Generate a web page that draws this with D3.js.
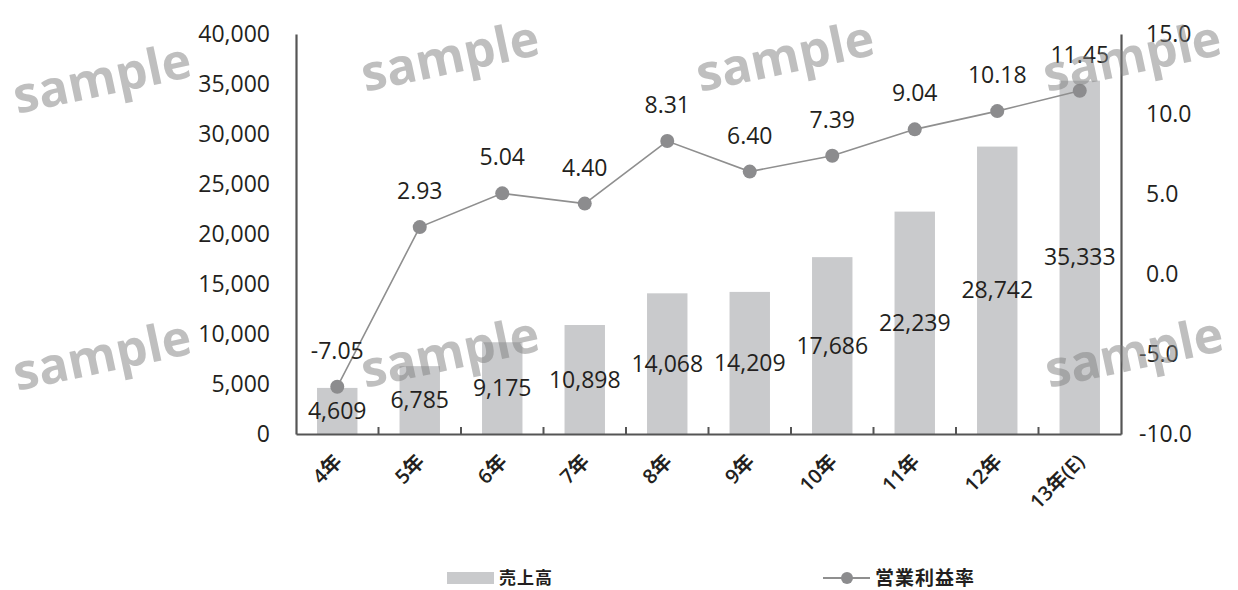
<!DOCTYPE html>
<html><head><meta charset="utf-8">
<script src="https://cdn.jsdelivr.net/npm/d3@7"></script>
<style>
html,body{margin:0;padding:0;background:#fff;}
svg{display:block;}
</style></head>
<body>
<svg id="chart" width="1238" height="590"></svg>
<script>
const categories = ["4年","5年","6年","7年","8年","9年","10年","11年","12年","13年(E)"];
const sales = [4609, 6785, 9175, 10898, 14068, 14209, 17686, 22239, 28742, 35333];
const margins = [-7.05, 2.93, 5.04, 4.40, 8.31, 6.40, 7.39, 9.04, 10.18, 11.45];
const leftTicks = [0, 5000, 10000, 15000, 20000, 25000, 30000, 35000, 40000];
const rightTicks = [-10, -5, 0, 5, 10, 15];
const legendLabels = ["売上高", "営業利益率"];
const watermarkText = "sample";

const W = 1238, H = 590;
const plot = {left: 296, right: 1121, top: 34, bottom: 434};
const font = "'Open Sans','Noto Sans CJK JP',sans-serif";
const svg = d3.select("#chart");

const x = d3.scaleBand().domain(categories).range([plot.left, plot.right]).padding(0);
const yL = d3.scaleLinear().domain([0, 40000]).range([plot.bottom, plot.top]);
const yR = d3.scaleLinear().domain([-10, 15]).range([plot.bottom, plot.top]);
const step = x.step();
const barW = step * 0.49;

// bars
svg.append("g").selectAll("rect").data(sales).join("rect")
  .attr("x", (d,i) => x(categories[i]) + (step - barW)/2)
  .attr("width", barW)
  .attr("y", d => yL(d))
  .attr("height", d => plot.bottom - yL(d))
  .attr("fill", "#c9cacc");

// left axis
const gL = svg.append("g").attr("transform", `translate(${plot.left},0)`)
  .call(d3.axisLeft(yL).tickValues(leftTicks).tickSize(0).tickPadding(26).tickFormat(d3.format(",")));
gL.select(".domain").attr("stroke", "#555").attr("stroke-width", 2.2);
gL.selectAll("text").attr("font-family", font).attr("font-size", 23).attr("fill", "#231f20");

// right axis
const gR = svg.append("g").attr("transform", `translate(${plot.right},0)`)
  .call(d3.axisRight(yR).tickValues(rightTicks).tickSize(0).tickPadding(25).tickFormat(d => d.toFixed(1)));
gR.select(".domain").attr("stroke", "#555").attr("stroke-width", 2.2);
gR.selectAll("text").attr("font-family", font).attr("font-size", 23).attr("fill", "#231f20")
  .attr("dx", d => d < 0 ? -7 : 0);

// bottom axis
const gB = svg.append("g").attr("transform", `translate(0,${plot.bottom})`)
  .call(d3.axisBottom(x).tickSize(0).tickFormat(""));
gB.select(".domain").attr("stroke", "#555").attr("stroke-width", 2.2);
gB.selectAll(".tick").remove();
svg.append("g").selectAll("line").data(categories.slice(1)).join("line")
  .attr("x1", d => x(d)).attr("x2", d => x(d))
  .attr("y1", plot.bottom).attr("y2", plot.bottom - 7)
  .attr("stroke", "#555").attr("stroke-width", 2);
svg.append("g").selectAll("text").data(categories).join("text")
  .attr("transform", d => `translate(${x(d) + step/2 + 1},${plot.bottom + 24}) rotate(-45)`)
  .attr("text-anchor", "end").attr("dy", "0.35em")
  .attr("font-family", font).attr("font-size", 20).attr("font-weight", 600).attr("fill", "#231f20")
  .text(d => d);

// bar labels
svg.append("g").selectAll("text").data(sales).join("text")
  .attr("x", (d,i) => x(categories[i]) + step/2)
  .attr("y", d => (yL(d) + plot.bottom)/2)
  .attr("dy", "0.35em").attr("text-anchor", "middle")
  .attr("font-family", font).attr("font-size", 23).attr("fill", "#231f20")
  .text(d => d3.format(",")(d));

// line
const line = d3.line().x((d,i) => x(categories[i]) + step/2).y(d => yR(d));
svg.append("path").datum(margins).attr("d", line)
  .attr("fill", "none").attr("stroke", "#8f8f8f").attr("stroke-width", 1.6);
svg.append("g").selectAll("circle").data(margins).join("circle")
  .attr("cx", (d,i) => x(categories[i]) + step/2).attr("cy", d => yR(d))
  .attr("r", 7).attr("fill", "#8c8c8e");
svg.append("g").selectAll("text").data(margins).join("text")
  .attr("x", (d,i) => x(categories[i]) + step/2)
  .attr("y", d => yR(d) - 36)
  .attr("dy", "0.35em").attr("text-anchor", "middle")
  .attr("font-family", font).attr("font-size", 23).attr("fill", "#231f20")
  .text(d => d.toFixed(2));

// legend
const lg = svg.append("g");
lg.append("rect").attr("x", 447).attr("y", 572).attr("width", 47).attr("height", 12).attr("fill", "#c9cacc");
lg.append("text").attr("x", 499).attr("y", 578).attr("dy", "0.35em")
  .attr("font-family", "'Noto Sans CJK JP',sans-serif").attr("font-size", 17).attr("font-weight", 700)
  .attr("letter-spacing", 1).attr("fill", "#231f20").text(legendLabels[0]);
lg.append("line").attr("x1", 823).attr("x2", 870).attr("y1", 578).attr("y2", 578)
  .attr("stroke", "#8f8f8f").attr("stroke-width", 2);
lg.append("circle").attr("cx", 847).attr("cy", 578).attr("r", 6).attr("fill", "#8c8c8e");
lg.append("text").attr("x", 875).attr("y", 578).attr("dy", "0.35em")
  .attr("font-family", "'Noto Sans CJK JP',sans-serif").attr("font-size", 19).attr("font-weight", 700)
  .attr("letter-spacing", 1).attr("fill", "#231f20").text(legendLabels[1]);

// watermarks
const wmPos = [[102,78],[450,56],[785,56],[1132,56],[102,355],[450,352],[1134,352]];
svg.append("g").selectAll("text").data(wmPos).join("text")
  .attr("transform", d => `translate(${d[0]},${d[1]}) rotate(-12)`)
  .attr("text-anchor", "middle").attr("dy", "0.35em")
  .attr("font-family", "'Open Sans',sans-serif").attr("font-weight", 700).attr("font-size", 50)
  .attr("fill", "#808080").attr("fill-opacity", 0.5)
  .text(watermarkText);
</script>
</body></html>
